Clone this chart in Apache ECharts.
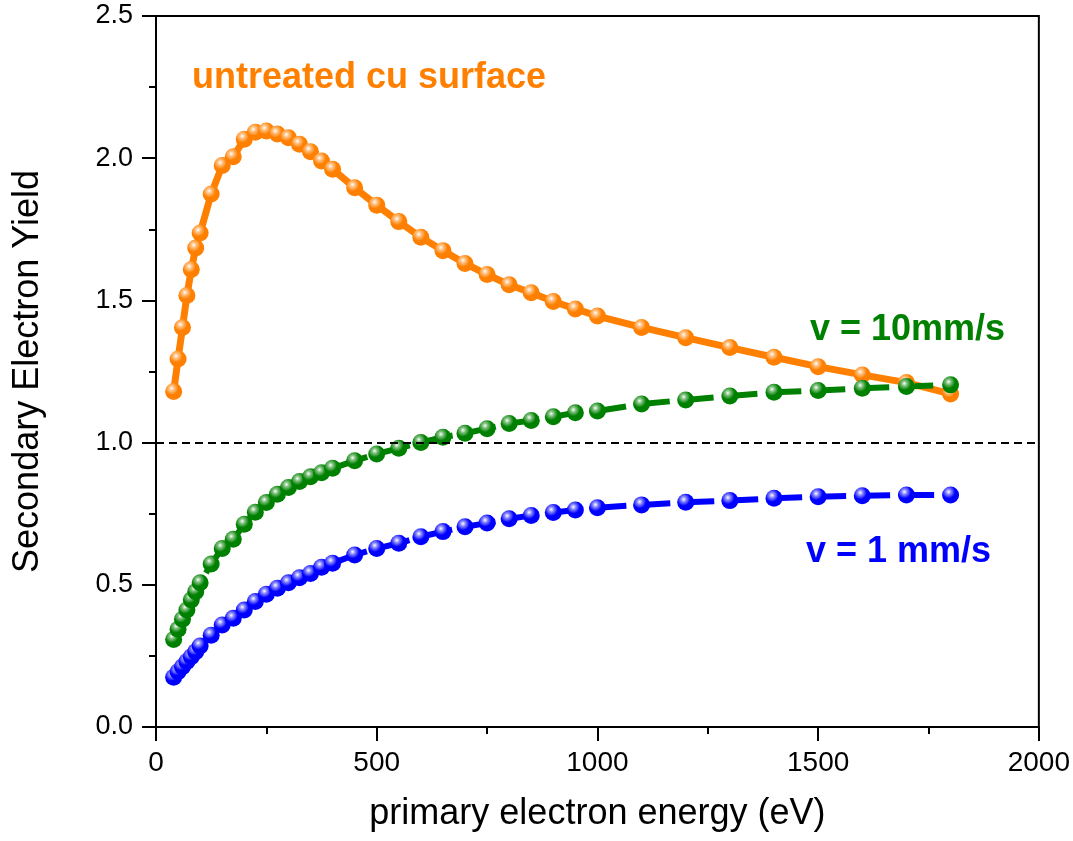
<!DOCTYPE html>
<html>
<head>
<meta charset="utf-8">
<title>Secondary Electron Yield</title>
<script src="https://cdn.jsdelivr.net/npm/echarts@6/dist/echarts.min.js"></script>
<style>
html, body { margin: 0; padding: 0; background: #fff; }
#chart { width: 1073px; height: 841px; }
</style>
</head>
<body>
<div id="chart"></div>
<script>
// primary electron energy (eV), same for all three curves
var energy = [40, 50, 60, 70, 80, 90, 100, 125, 150, 175, 200, 225, 250, 275, 300, 325, 350, 375, 400,
  450, 500, 550, 600, 650, 700, 750, 800, 850, 900, 950, 1000,
  1100, 1200, 1300, 1400, 1500, 1600, 1700, 1800];

var untreated = [1.18, 1.294, 1.405, 1.517, 1.609, 1.684, 1.737, 1.874, 1.974, 2.005, 2.067, 2.091, 2.096, 2.085, 2.072, 2.049, 2.023, 1.990, 1.961,
  1.896, 1.835, 1.777, 1.722, 1.675, 1.630, 1.591, 1.555, 1.527, 1.496, 1.470, 1.445,
  1.405, 1.369, 1.334, 1.300, 1.267, 1.238, 1.211, 1.171];

var v10 = [0.308, 0.344, 0.379, 0.411, 0.447, 0.476, 0.507, 0.573, 0.628, 0.660, 0.713, 0.755, 0.789, 0.818, 0.842, 0.863, 0.880, 0.894, 0.910,
  0.936, 0.960, 0.980, 1.000, 1.019, 1.033, 1.049, 1.067, 1.078, 1.091, 1.105, 1.111,
  1.136, 1.150, 1.164, 1.177, 1.183, 1.191, 1.197, 1.203];

var v1 = [0.175, 0.194, 0.212, 0.230, 0.247, 0.265, 0.285, 0.323, 0.359, 0.382, 0.411, 0.441, 0.467, 0.488, 0.507, 0.525, 0.540, 0.562, 0.576,
  0.605, 0.628, 0.646, 0.669, 0.687, 0.704, 0.717, 0.732, 0.744, 0.754, 0.763, 0.771,
  0.781, 0.790, 0.796, 0.804, 0.810, 0.813, 0.816, 0.816];

var threshold = 1.0;

function pairs(ys) {
  return energy.map(function (x, i) { return [x, ys[i]]; });
}

// shaded "ball" look of the markers
function ball(base, light) {
  return {
    type: 'radial', x: 0.38, y: 0.32, r: 0.7,
    colorStops: [
      { offset: 0, color: '#ffffff' },
      { offset: 0.2, color: light },
      { offset: 0.55, color: base },
      { offset: 1, color: base }
    ]
  };
}

var font = 'Liberation Sans, Arial, sans-serif';

var chart = echarts.init(document.getElementById('chart'));
chart.setOption({
  animation: false,
  backgroundColor: '#fff',
  grid: {
    left: 156, right: 34, top: 16, bottom: 114,
    show: true, borderColor: '#000', borderWidth: 2
  },
  xAxis: {
    type: 'value',
    min: 0, max: 2000, interval: 500,
    name: 'primary electron energy (eV)',
    nameLocation: 'middle',
    nameGap: 69,
    nameTextStyle: { fontFamily: font, fontSize: 36, color: '#000' },
    axisLine: { lineStyle: { color: '#000', width: 2 } },
    axisTick: { length: 14, lineStyle: { color: '#000', width: 2 } },
    minorTick: { show: true, splitNumber: 2, length: 7, lineStyle: { color: '#000', width: 2 } },
    axisLabel: {
      fontFamily: font, fontSize: 28, color: '#000', margin: 22,
      formatter: function (v) { return String(v); }
    },
    splitLine: { show: false }
  },
  yAxis: {
    type: 'value',
    min: 0, max: 2.5, interval: 0.5,
    name: 'Secondary Electron Yield',
    nameLocation: 'middle',
    nameGap: 110,
    nameTextStyle: { fontFamily: font, fontSize: 36, color: '#000' },
    axisLine: { lineStyle: { color: '#000', width: 2 } },
    axisTick: { length: 14, lineStyle: { color: '#000', width: 2 } },
    minorTick: { show: true, splitNumber: 2, length: 7, lineStyle: { color: '#000', width: 2 } },
    axisLabel: {
      fontFamily: font, fontSize: 27, color: '#000', margin: 23,
      formatter: function (v) { return v.toFixed(1); }
    },
    splitLine: { show: false }
  },
  series: [
    {
      name: 'untreated cu surface',
      type: 'line',
      data: pairs(untreated),
      symbol: 'circle',
      symbolSize: 17,
      itemStyle: { color: ball('#FF8000', '#FFC488') },
      lineStyle: { color: '#FF8000', width: 7 },
      markLine: {
        silent: true,
        symbol: ['none', 'none'],
        label: { show: false },
        lineStyle: { color: '#000', type: [8, 5], width: 2 },
        data: [{ yAxis: threshold }]
      }
    },
    {
      name: 'v = 10mm/s',
      type: 'line',
      data: pairs(v10),
      symbol: 'circle',
      symbolSize: 17,
      itemStyle: { color: ball('#008000', '#86C486') },
      lineStyle: { color: '#008000', width: 6, type: [29, 15] }
    },
    {
      name: 'v = 1 mm/s',
      type: 'line',
      data: pairs(v1),
      symbol: 'circle',
      symbolSize: 17,
      itemStyle: { color: ball('#0000FF', '#9090FF') },
      lineStyle: { color: '#0000FF', width: 6, type: [29, 15] }
    }
  ],
  graphic: [
    { type: 'text', left: 192, top: 60, style: { text: 'untreated cu surface', fill: '#FF8000', font: 'bold 36px ' + font } },
    { type: 'text', left: 810, top: 312, style: { text: 'v = 10mm/s', fill: '#008000', font: 'bold 36px ' + font } },
    { type: 'text', left: 806, top: 534, style: { text: 'v = 1 mm/s', fill: '#0000FF', font: 'bold 36px ' + font } }
  ]
});

// line up the dashes so one starts at each point of the 100 eV steps
function dashOffset(ys, startIdx, period) {
  var len = 0;
  for (var i = 1; i <= startIdx; i++) {
    var a = chart.convertToPixel({ gridIndex: 0 }, [energy[i - 1], ys[i - 1]]);
    var b = chart.convertToPixel({ gridIndex: 0 }, [energy[i], ys[i]]);
    len += Math.hypot(b[0] - a[0], b[1] - a[1]);
  }
  return period - (len % period);
}
var start = energy.indexOf(1000);
chart.setOption({
  series: [
    {},
    { lineStyle: { dashOffset: dashOffset(v10, start, 44) } },
    { lineStyle: { dashOffset: dashOffset(v1, start, 44) } }
  ]
});
</script>
</body>
</html>
